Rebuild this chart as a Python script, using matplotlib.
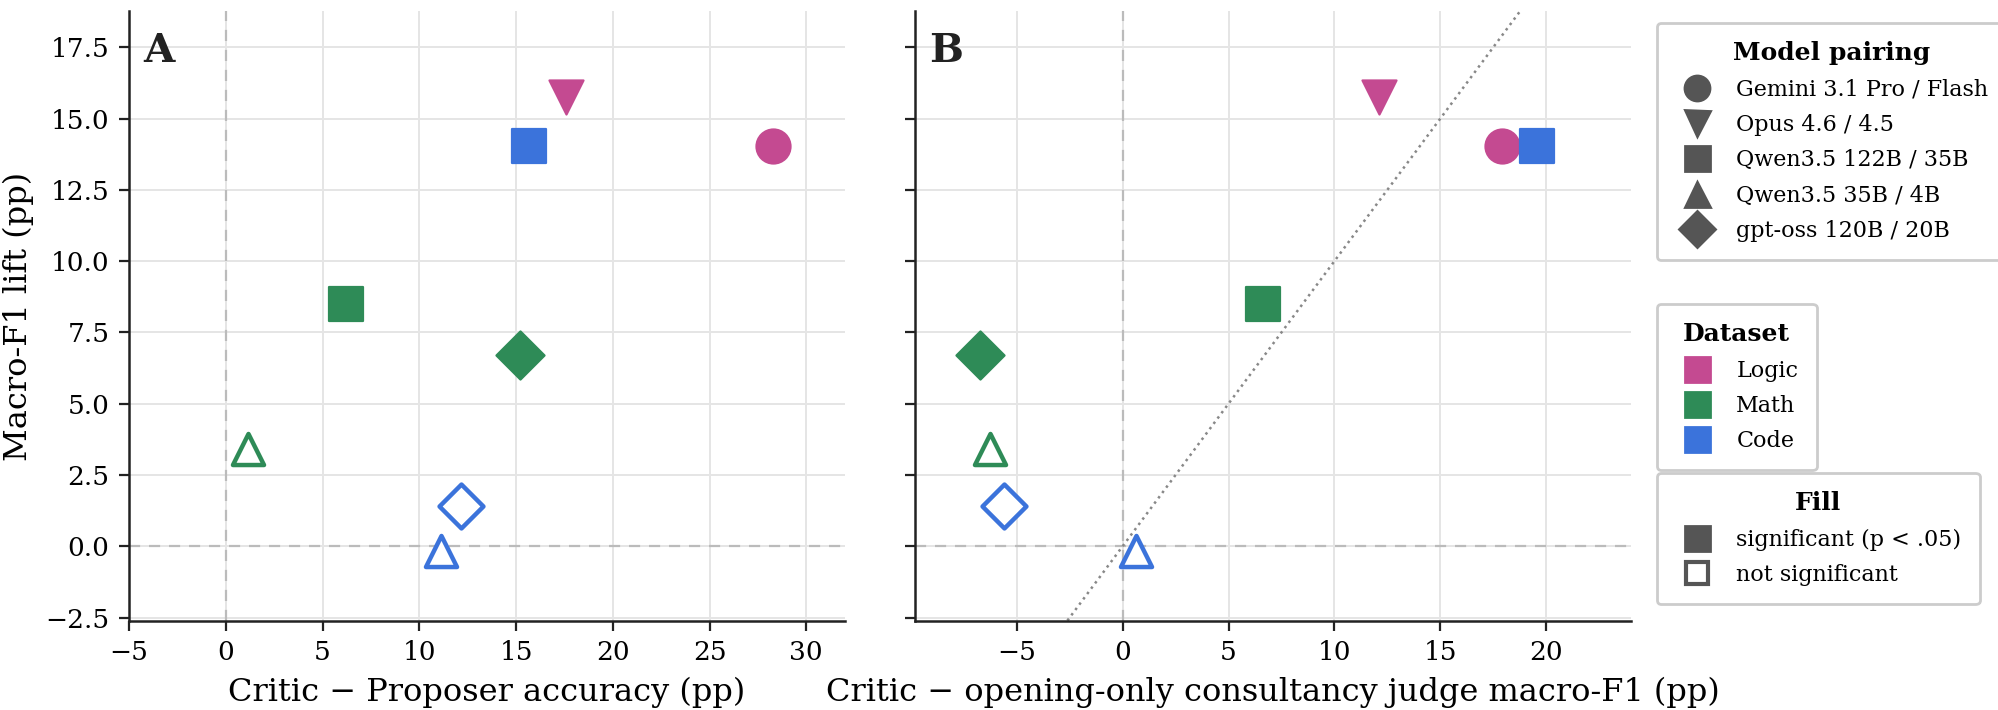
import matplotlib
matplotlib.use("Agg")
import matplotlib.pyplot as plt
from matplotlib.lines import Line2D

plt.rcParams['font.family'] = ['DejaVu Serif']

# ---- data ----
pairings = ["Gemini 3.1 Pro / Flash", "Opus 4.6 / 4.5", "Qwen3.5 122B / 35B",
            "Qwen3.5 35B / 4B", "gpt-oss 120B / 20B"]
pairing_markers = ["o", "v", "s", "^", "D"]
datasets = ["Logic", "Math", "Code"]
dataset_colors = ["#C44A91", "#2E8B57", "#3B73DB"]

# each point: dataset, pairing, x (panel A), x (panel B), y, significant
pt_dataset = ["Logic", "Logic", "Math", "Math", "Math", "Code", "Code", "Code"]
pt_pairing = ["Gemini 3.1 Pro / Flash", "Opus 4.6 / 4.5", "Qwen3.5 122B / 35B",
              "gpt-oss 120B / 20B", "Qwen3.5 35B / 4B", "Qwen3.5 122B / 35B",
              "gpt-oss 120B / 20B", "Qwen3.5 35B / 4B"]
x_critic_vs_proposer = [28.3, 17.6, 6.2, 15.2, 1.15, 15.65, 12.15, 11.1]
x_critic_vs_consult = [17.9, 12.1, 6.65, -6.75, -6.25, 19.55, -5.6, 0.62]
y_macro_f1_lift = [14.02, 15.75, 8.5, 6.72, 3.4, 14.05, 1.4, -0.18]
significant = [True, True, True, True, False, True, False, False]

color_of = dict(zip(datasets, dataset_colors))
marker_of = dict(zip(pairings, pairing_markers))

W, H = 1999, 710
fig = plt.figure(figsize=(W / 200, H / 200), dpi=200)
axA = fig.add_axes([129 / W, 1 - 621 / H, (845 - 129) / W, (621 - 11) / H])
axB = fig.add_axes([915 / W, 1 - 621 / H, (1631 - 915) / W, (621 - 11) / H], sharey=axA)

def style(ax):
    for s in ["top", "right"]:
        ax.spines[s].set_visible(False)
    for s in ["left", "bottom"]:
        ax.spines[s].set_linewidth(0.9)
        ax.spines[s].set_color("#222222")
    ax.grid(True, color="#e5e5e5", linewidth=0.7, zorder=0)
    ax.set_axisbelow(True)
    ax.tick_params(labelsize=9.5, length=3.5, width=0.8, color="#222222")
    ax.axhline(0, color="#bbbbbb", linestyle=(0, (5, 4)), linewidth=0.8, zorder=1)
    ax.axvline(0, color="#bbbbbb", linestyle=(0, (5, 4)), linewidth=0.8, zorder=1)

def draw(ax, xs):
    for d, p, x, y, sig in zip(pt_dataset, pt_pairing, xs, y_macro_f1_lift, significant):
        c = color_of[d]
        if sig:
            ax.scatter([x], [y], s=150, marker=marker_of[p], facecolor=c,
                       edgecolor=c, linewidth=0.8, zorder=3)
        else:
            ax.scatter([x], [y], s=125, marker=marker_of[p], facecolor="white",
                       edgecolor=c, linewidth=1.6, zorder=3)

style(axA)
style(axB)
draw(axA, x_critic_vs_proposer)
draw(axB, x_critic_vs_consult)

axA.set_xlim(-5, 32)
axB.set_xlim(-9.8, 24)
axA.set_ylim(-2.62, 18.77)
axA.set_xticks([-5, 0, 5, 10, 15, 20, 25, 30])
axB.set_xticks([-5, 0, 5, 10, 15, 20])
axA.set_yticks([-2.5, 0, 2.5, 5, 7.5, 10, 12.5, 15, 17.5])
axA.set_yticklabels(["−2.5", "0.0", "2.5", "5.0", "7.5", "10.0", "12.5", "15.0", "17.5"])
plt.setp(axB.get_yticklabels(), visible=False)

# identity line
lo, hi = -30, 40
axB.plot([lo, hi], [lo, hi], linestyle=":", color="#888888", linewidth=0.9, zorder=2)

axA.set_xlabel("Critic − Proposer accuracy (pp)", fontsize=11.5)
axB.set_xlabel("Critic − opening-only consultancy judge macro-F1 (pp)", fontsize=11.5)
axA.set_ylabel("Macro-F1 lift (pp)", fontsize=11.5)

axA.text(0.02, 0.965, "A", transform=axA.transAxes, fontsize=14.5, fontweight="bold",
         va="top", ha="left", color="#222222")
axB.text(0.02, 0.965, "B", transform=axB.transAxes, fontsize=14.5, fontweight="bold",
         va="top", ha="left", color="#222222")

gray = "#555555"
leg_kw = dict(fontsize=8.0, title_fontproperties={"weight": "bold", "size": 9},
              loc="upper left", borderaxespad=0, frameon=True, edgecolor="#cccccc",
              fancybox=True, framealpha=1, labelspacing=0.6, borderpad=0.82,
              handlelength=2.0, handletextpad=0.75)

h1 = [Line2D([], [], linestyle="none", marker=m, markersize=9, markerfacecolor=gray,
             markeredgecolor=gray) for m in pairing_markers]
l1 = fig.legend(h1, pairings, title="Model pairing",
                bbox_to_anchor=(1657 / W, 1 - 23 / H), **leg_kw)

h2 = [Line2D([], [], linestyle="none", marker="s", markersize=9, markerfacecolor=c,
             markeredgecolor=c) for c in dataset_colors]
l2 = fig.legend(h2, datasets, title="Dataset",
                bbox_to_anchor=(1657 / W, 1 - 304 / H), **leg_kw)

h3 = [Line2D([], [], linestyle="none", marker="s", markersize=9, markerfacecolor=gray,
             markeredgecolor=gray),
      Line2D([], [], linestyle="none", marker="s", markersize=8, markerfacecolor="white",
             markeredgecolor=gray, markeredgewidth=1.5)]
l3 = fig.legend(h3, ["significant (p < .05)", "not significant"], title="Fill",
                bbox_to_anchor=(1657 / W, 1 - 473 / H), **leg_kw)

fig.savefig("out.png", dpi=200)
